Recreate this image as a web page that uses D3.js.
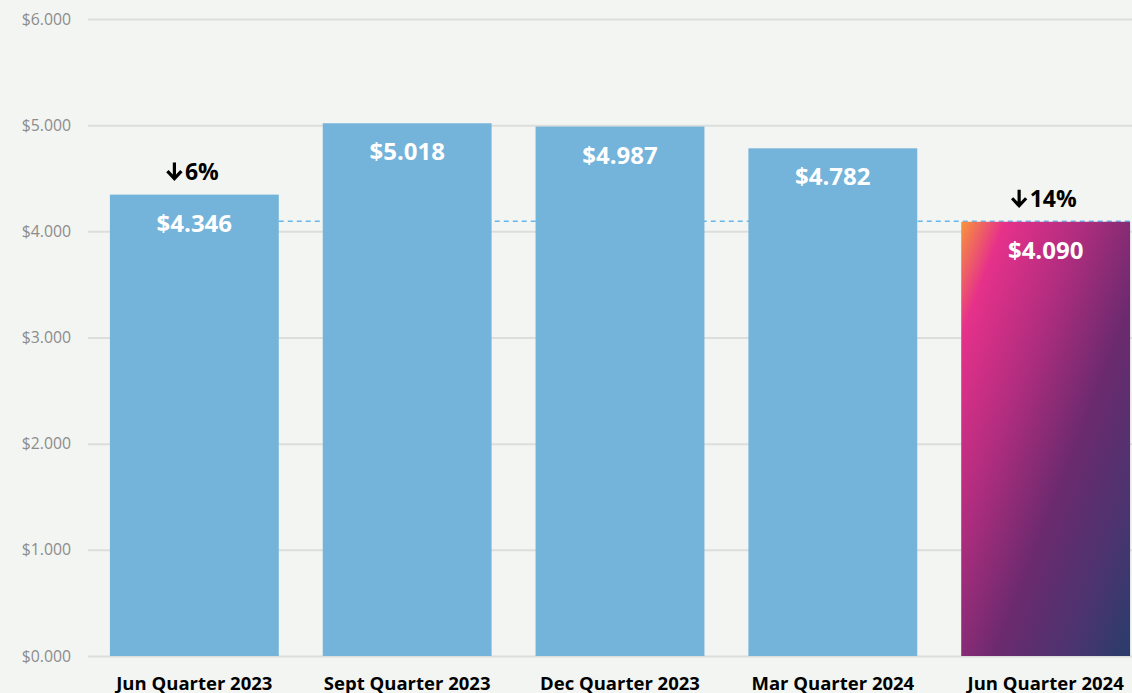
<!DOCTYPE html>
<html>
<head>
<meta charset="utf-8">
<script src="https://cdn.jsdelivr.net/npm/d3@7"></script>
<style>
  html, body { margin: 0; padding: 0; background: #f3f5f2; }
  svg { display: block; font-family: "Open Sans", sans-serif; }
</style>
</head>
<body>
<svg id="chart" width="1132" height="693"></svg>
<script>
/* data */
var categories = ["Jun Quarter 2023", "Sept Quarter 2023", "Dec Quarter 2023", "Mar Quarter 2024", "Jun Quarter 2024"];
var values = [4346, 5018, 4987, 4782, 4090];
var changes = ["6%", null, null, null, "14%"];
var yTicks = [0, 1000, 2000, 3000, 4000, 5000, 6000];

var W = 1132, H = 693;
var margin = {left: 88, top: 19, bottom: 37};

var svg = d3.select("#chart");

var locale = d3.formatLocale({decimal: ",", thousands: ".", grouping: [3], currency: ["$", ""]});
var fmtTick = function(d) { return "$" + locale.format(",.0f")(d).replace(/^0$/, "0.000"); };
var fmtVal = locale.format("$,.0f");

var x = d3.scaleBand()
	.domain(categories)
	.range([margin.left, 1152])
	.paddingInner(0.2066)
	.paddingOuter(0.103);

var y = d3.scaleLinear()
	.domain([0, 6000])
	.range([H - margin.bottom, margin.top]);

/* gradient for the latest quarter */
var defs = svg.append("defs");
var grad = defs.append("linearGradient")
	.attr("id", "hl")
	.attr("x1", 0).attr("y1", 0).attr("x2", 1).attr("y2", 1);
[[0, "#f7953a"], [0.13, "#e6318a"], [0.35, "#b22d7f"], [0.6, "#6b2a6e"], [0.82, "#4b346f"], [1, "#283d6b"]]
	.forEach(function(s) { grad.append("stop").attr("offset", s[0]).attr("stop-color", s[1]); });

/* gridlines + y labels */
var yAxis = d3.axisLeft(y)
	.tickValues(yTicks)
	.tickSize(-(W - margin.left))
	.tickPadding(17)
	.tickFormat(fmtTick);

var gy = svg.append("g")
	.attr("transform", "translate(" + margin.left + ",0)")
	.call(yAxis);
gy.select(".domain").remove();
gy.selectAll(".tick line").attr("stroke", "#dcdedb").attr("stroke-width", 2);
gy.selectAll(".tick text")
	.attr("fill", "#8c8c8c")
	.style("font-size", "15.8px")
	.style("font-family", "Open Sans, sans-serif");

/* dashed reference at latest value */
var last = values[values.length - 1];
svg.append("line")
	.attr("x1", x(categories[0]) + x.bandwidth())
	.attr("x2", W)
	.attr("y1", y(last) - 0.5)
	.attr("y2", y(last) - 0.5)
	.attr("stroke", "#66b8ea")
	.attr("stroke-width", 1.5)
	.attr("stroke-dasharray", "5,4");

/* bars */
svg.append("g").selectAll("rect")
	.data(values)
	.join("rect")
	.attr("x", function(d, i) { return x(categories[i]); })
	.attr("y", function(d) { return y(d); })
	.attr("width", x.bandwidth())
	.attr("height", function(d) { return y(0) - y(d); })
	.attr("fill", function(d, i) { return i === values.length - 1 ? "url(#hl)" : "#74b3da"; });

/* value labels */
svg.append("g").selectAll("text")
	.data(values)
	.join("text")
	.attr("x", function(d, i) { return x(categories[i]) + x.bandwidth() / 2; })
	.attr("y", function(d) { return y(d) + 37; })
	.attr("text-anchor", "middle")
	.attr("fill", "#ffffff")
	.style("font-weight", 700)
	.style("font-size", "24px")
	.text(function(d) { return fmtVal(d); });

/* change labels: drawn arrow + text */
var arrowW = 17, gap = 2;
var chg = svg.append("g").selectAll("g")
	.data(values.map(function(v, i) { return {v: v, i: i}; }).filter(function(d) { return changes[d.i]; }))
	.join("g");
chg.each(function(d) {
	var g = d3.select(this);
	var base = y(d.v) - 15;
	var t = g.append("text")
		.attr("y", base)
		.attr("fill", "#000")
		.style("font-weight", 700)
		.style("font-size", "23px")
		.text(changes[d.i]);
	var tw = t.node().getComputedTextLength();
	var x0 = x(categories[d.i]) + x.bandwidth() / 2 - (arrowW + gap + tw) / 2 - 2;
	t.attr("x", x0 + arrowW + gap);
	var cx = x0 + arrowW / 2, top = base - 17, bot = base;
	g.append("path")
		.attr("d", "M" + cx + "," + top + "V" + (bot - 1) +
			"M" + (x0 + 1.5) + "," + (bot - 8.5) + "L" + cx + "," + (bot - 1) + "L" + (x0 + arrowW - 1.5) + "," + (bot - 8.5))
		.attr("fill", "none")
		.attr("stroke", "#000")
		.attr("stroke-width", 3.2)
		.attr("stroke-linejoin", "miter");
});

/* x labels */
svg.append("g").selectAll("text")
	.data(categories)
	.join("text")
	.attr("x", function(d) { return x(d) + x.bandwidth() / 2; })
	.attr("y", 690)
	.attr("text-anchor", "middle")
	.attr("fill", "#000")
	.style("font-weight", 700)
	.style("font-size", "18.5px")
	.text(function(d) { return d; });
</script>
</body>
</html>
